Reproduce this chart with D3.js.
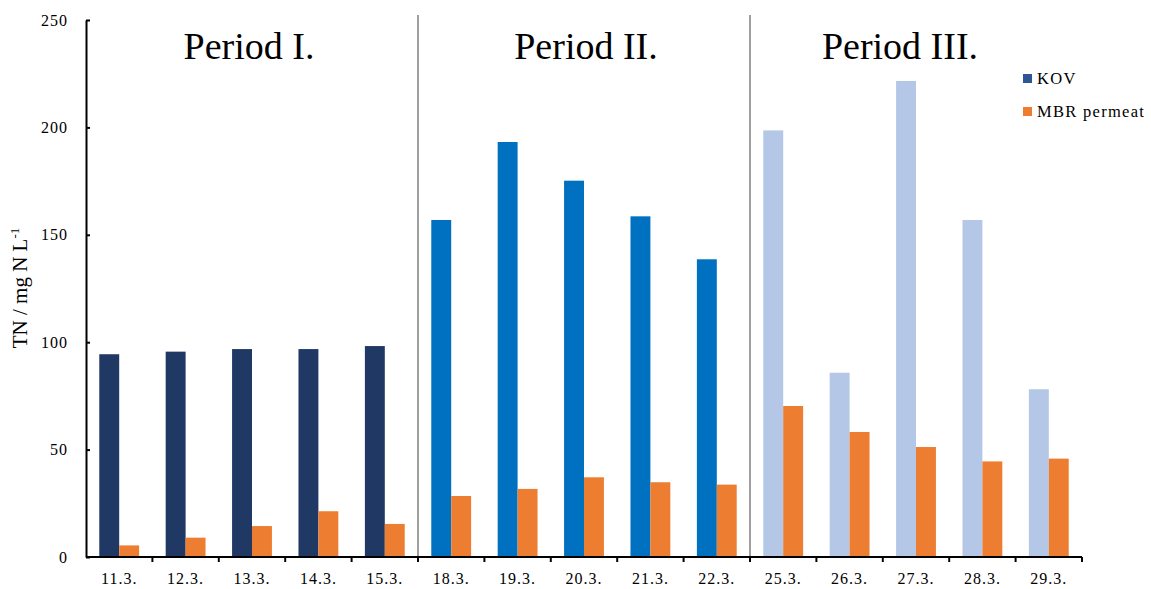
<!DOCTYPE html>
<html>
<head>
<meta charset="utf-8">
<script src="https://cdn.jsdelivr.net/npm/d3@7"></script>
<style>
  body { margin: 0; background: #fff; }
  text { font-family: "Liberation Serif", "Times New Roman", serif; fill: #000; }
</style>
</head>
<body>
<svg width="1151" height="589"></svg>
<script>
var svg = d3.select('svg');

// dates on the x axis
var dates = ['11.3.', '12.3.', '13.3.', '14.3.', '15.3.',
             '18.3.', '19.3.', '20.3.', '21.3.', '22.3.',
             '25.3.', '26.3.', '27.3.', '28.3.', '29.3.'];
// which period each date belongs to
var periodOf = [0, 0, 0, 0, 0, 1, 1, 1, 1, 1, 2, 2, 2, 2, 2];
var periodNames = ['Period I.', 'Period II.', 'Period III.'];

// TN values, mg N/L
var kov = [94.4, 95.6, 96.8, 96.8, 98.2, 156.9, 193.2, 175.2, 158.6, 138.6, 198.6, 85.8, 221.6, 156.9, 78.1];
var mbr = [5.4, 9.0, 14.4, 21.3, 15.4, 28.4, 31.7, 37.1, 34.8, 33.7, 70.3, 58.2, 51.2, 44.5, 45.8];

var seriesNames = ['KOV', 'MBR permeat'];
var yTicks = [0, 50, 100, 150, 200, 250];

// KOV bar colour changes per period, permeat is always orange
var kovColors = ['#203864', '#0070C0', '#B4C7E7'];
var mbrColor = '#ED7D31';
var legendColors = ['#2F5597', '#ED7D31'];

// plot area (don't call it "top", that's window.top)
var plotLeft = 86, plotRight = 1082, plotTop = 20, plotBottom = 557;

var x = d3.scaleBand()
  .domain(dates)
  .range([plotLeft, plotRight]);

var x1 = d3.scaleBand()
  .domain(seriesNames)
  .range([x.bandwidth() * 0.2, x.bandwidth() * 0.8]);

var y = d3.scaleLinear()
  .domain([0, 250])
  .range([plotBottom, plotTop]);

// period separators
var boundaries = [];
for (let i = 1; i < dates.length; i++) {
  if (periodOf[i] != periodOf[i - 1]) boundaries.push(dates[i]);
}
svg.append('g')
  .selectAll('line')
  .data(boundaries)
  .join('line')
    .attr('x1', d => x(d))
    .attr('x2', d => x(d))
    .attr('y1', 15)
    .attr('y2', plotBottom)
    .attr('stroke', '#7f7f7f')
    .attr('stroke-width', 1.5);

// bars
var rows = dates.map((d, i) => ({date: d, i: i, kov: kov[i], mbr: mbr[i]}));

svg.append('g')
  .selectAll('rect')
  .data(rows)
  .join('rect')
    .attr('x', d => x(d.date) + x1('KOV'))
    .attr('y', d => y(d.kov))
    .attr('width', x1.bandwidth())
    .attr('height', d => y(0) - y(d.kov))
    .attr('fill', d => kovColors[periodOf[d.i]]);

svg.append('g')
  .selectAll('rect')
  .data(rows)
  .join('rect')
    .attr('x', d => x(d.date) + x1('MBR permeat'))
    .attr('y', d => y(d.mbr))
    .attr('width', x1.bandwidth())
    .attr('height', d => y(0) - y(d.mbr))
    .attr('fill', mbrColor);

// y axis, ticks point inwards
var yAxis = svg.append('g')
  .attr('transform', 'translate(' + plotLeft + ',0)')
  .call(d3.axisRight(y).tickValues(yTicks).tickSize(4).tickSizeOuter(0))
  .attr('font-family', '"Liberation Serif", serif')
  .attr('font-size', 16);
yAxis.select('.domain').attr('stroke', '#000').attr('stroke-width', 2);
yAxis.selectAll('.tick line').attr('stroke', '#000').attr('stroke-width', 2);
yAxis.selectAll('.tick text')
  .attr('x', -18)
  .attr('text-anchor', 'end')
  .style('letter-spacing', '1px')
  .attr('fill', '#000');

// x axis, ticks on the band edges
var xg = svg.append('g');
xg.append('line')
  .attr('x1', plotLeft).attr('x2', plotRight)
  .attr('y1', plotBottom).attr('y2', plotBottom)
  .attr('stroke', '#000').attr('stroke-width', 2);
var edges = dates.map(d => x(d)).concat([plotRight]).slice(1);
xg.selectAll('line.tick')
  .data(edges)
  .join('line')
    .attr('class', 'tick')
    .attr('x1', d => d).attr('x2', d => d)
    .attr('y1', plotBottom).attr('y2', plotBottom + 5)
    .attr('stroke', '#000').attr('stroke-width', 2);
xg.selectAll('text')
  .data(dates)
  .join('text')
    .attr('x', d => x(d) + x.bandwidth() / 2)
    .attr('y', 584)
    .attr('text-anchor', 'middle')
    .style('font-size', '16px')
    .style('letter-spacing', '1px')
    .text(d => d);

// y label
var yl = svg.append('text')
  .attr('transform', 'translate(27,288)rotate(-90)')
  .attr('text-anchor', 'middle')
  .style('font-size', '21px');
yl.append('tspan').text('TN / mg N L');
yl.append('tspan').attr('dy', -8).style('font-size', '13px').text('-1');

// period titles
var titleShift = [-3, 2, -16];
svg.append('g')
  .selectAll('text')
  .data(periodNames)
  .join('text')
    .attr('x', (d, p) => {
      var ds = dates.filter((_, i) => periodOf[i] == p);
      return (x(ds[0]) + x(ds[ds.length - 1]) + x.bandwidth()) / 2 + titleShift[p];
    })
    .attr('y', 59)
    .attr('text-anchor', 'middle')
    .style('font-size', '38px')
    .text(d => d);

// legend
var legend = svg.append('g')
  .selectAll('g')
  .data(seriesNames)
  .join('g')
    .attr('transform', (d, i) => 'translate(1023,' + (74 + i * 33) + ')');
legend.append('rect')
  .attr('width', 9).attr('height', 9)
  .attr('fill', (d, i) => legendColors[i]);
legend.append('text')
  .attr('x', 14).attr('y', 10)
  .style('font-size', '16.5px')
  .style('letter-spacing', '1.3px')
  .text(d => d);
</script>
</body>
</html>
